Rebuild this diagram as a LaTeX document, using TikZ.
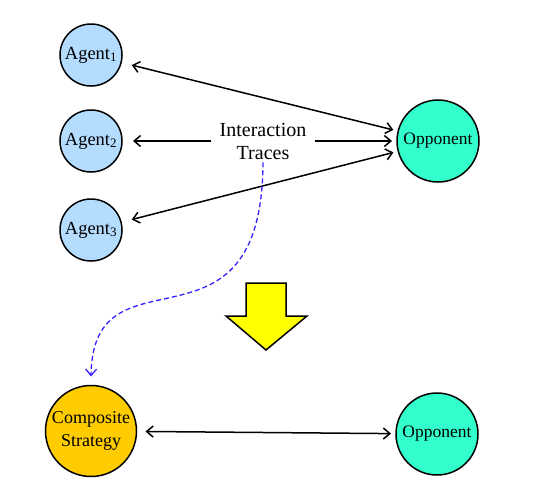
\documentclass[tikz,border=0pt]{standalone}
\usepackage{fontspec}
\setmainfont{Liberation Serif}
\usetikzlibrary{arrows.meta}
\definecolor{agentblue}{RGB}{180,220,255}
\definecolor{oppgreen}{RGB}{51,255,204}
\definecolor{compgold}{RGB}{255,204,0}
\definecolor{yellowarrow}{RGB}{255,255,0}
\definecolor{dashblue}{RGB}{51,34,255}
\begin{document}
\begin{tikzpicture}[x=1pt,y=-1pt,
  >={Straight Barb[length=6.5pt,width=11pt]},
  conn/.style={line width=1.5pt},
  agent/.style={circle,draw,line width=1.5pt,fill=agentblue,minimum size=62pt,inner sep=0pt,outer sep=11pt,font=\fontsize{18.5}{22}\selectfont},
  opp/.style={circle,draw,line width=1.5pt,fill=oppgreen,minimum size=82pt,inner sep=0pt,outer sep=5pt,font=\fontsize{17.5}{22}\selectfont},
  comp/.style={circle,draw,line width=1.5pt,fill=compgold,minimum size=91pt,inner sep=0pt,outer sep=9pt,align=center,font=\fontsize{18}{23}\selectfont},
  txt/.style={align=center,inner sep=8pt,font=\fontsize{20}{23}\selectfont}]
\useasboundingbox (0,0) rectangle (543,496);
\node[agent] (a1) at (91,55) {Agent\textsubscript{1}};
\node[agent] (a2) at (91,141) {Agent\textsubscript{2}};
\node[agent] (a3) at (91,230) {Agent\textsubscript{3}};
\node[opp] (o1) at (438,141) {Opponent};
\node[opp] (o2) at (437,434) {Opponent};
\node[comp] (cs) at (91,431) {Composite\\Strategy};
\node[txt] (it) at (263,141) {Interaction\\Traces};
\draw[conn,<->] (a1) -- (o1);
\draw[conn,->] (it) -- (a2);
\draw[conn,->] (it) -- (o1);
\draw[conn,<->] (a3) -- (o1);
\draw[conn,<->] (cs) -- (o2);
\draw[line width=1.3pt,dashblue,dash pattern=on 5pt off 3pt,->,shorten <=-5pt]
  (it.south) .. controls (262,370) and (93,240) .. (cs.north);
\draw[line width=1.5pt,fill=yellowarrow] (246,283) -- (286,283) -- (286,316) -- (307,316)
  -- (266,350) -- (226,316) -- (246,316) -- cycle;
\end{tikzpicture}
\end{document}
